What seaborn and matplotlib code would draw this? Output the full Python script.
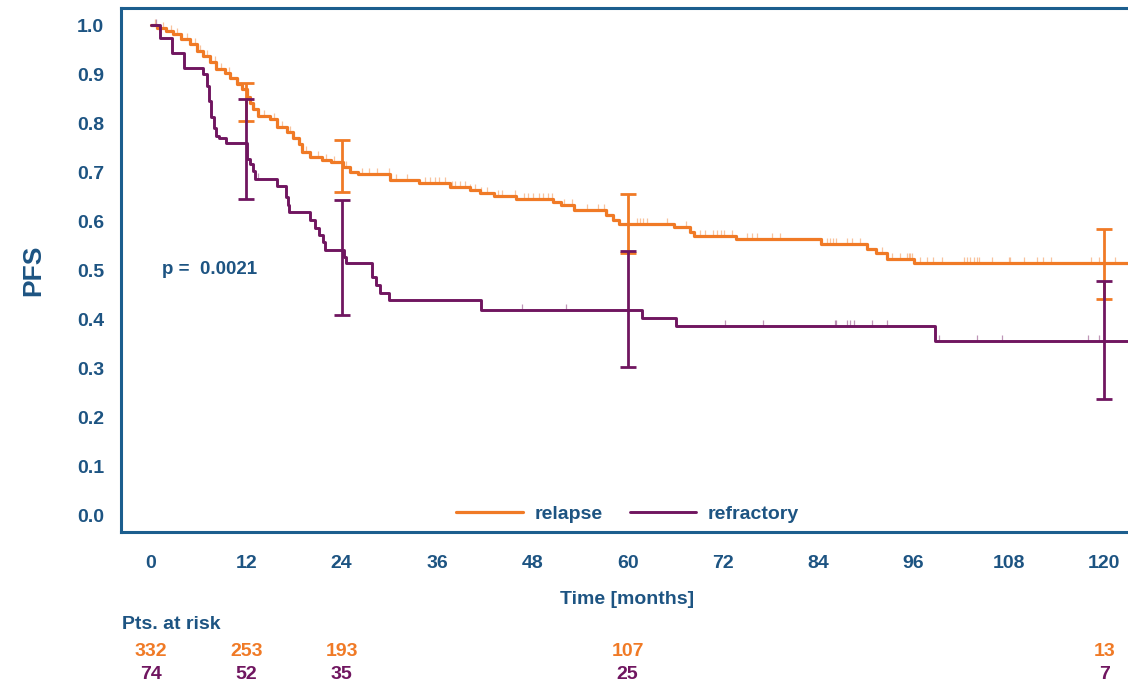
"""
Kaplan-Meier style PFS chart: relapse vs refractory, with 95% CI bars
at selected landmarks and a patients-at-risk table under the x axis.
"""

import matplotlib
matplotlib.use('Agg')
import matplotlib.pyplot as plt
from matplotlib.path import Path
from matplotlib.transforms import blended_transform_factory
import numpy as np
import pandas as pd
import seaborn as sns

# ---- data ----
relapse_t = [0, 0.7, 1.9, 2.8, 3.8, 4.9, 5.8, 6.6, 7.4, 8.2, 9.3, 10.0, 10.8,
             11.4, 12.1, 12.5, 12.9, 13.5, 15.0, 15.8, 17.1, 17.9, 18.6, 19.0,
             20.0, 21.5, 22.6, 24.2, 25.0, 26.0, 30.1, 33.7, 37.6, 40.2, 41.4,
             43.2, 46.0, 50.6, 51.6, 53.3, 57.3, 58.1, 58.9, 65.8, 67.8, 68.4,
             73.6, 84.3, 90.1, 91.3, 92.6, 96.0]
relapse_s = [1.0, 0.995, 0.988, 0.981, 0.971, 0.961, 0.947, 0.937, 0.924, 0.910,
             0.903, 0.893, 0.880, 0.870, 0.853, 0.842, 0.829, 0.815, 0.809, 0.792,
             0.782, 0.771, 0.758, 0.741, 0.731, 0.725, 0.721, 0.711, 0.700, 0.697,
             0.684, 0.678, 0.671, 0.665, 0.658, 0.651, 0.646, 0.640, 0.633, 0.623,
             0.613, 0.602, 0.595, 0.589, 0.579, 0.570, 0.564, 0.555, 0.544, 0.535,
             0.523, 0.515]
relapse_censor = [0.5, 1.5, 2.5, 3.3, 4.5, 5.5, 6.2, 7.0, 8.0, 8.8, 9.8, 11.0,
                  13.0, 14.2, 15.5, 16.5, 17.5, 19.5, 21.0, 22.0, 23.0, 24.6,
                  26.5, 27.5, 28.5, 29.9, 30.9, 32.2, 34.5, 35.1, 35.8, 36.2,
                  37.0, 37.9, 38.3, 38.9, 39.5, 40.2, 40.8, 41.6, 42.3, 43.7,
                  44.2, 45.8, 46.9, 47.5, 48.1, 48.8, 49.4, 50.0, 50.5, 52.0,
                  53.0, 54.9, 56.3, 57.0, 57.4, 61.2, 61.6, 62.0, 62.4, 65.0,
                  67.3, 69.1, 69.8, 70.8, 71.2, 71.7, 72.1, 73.1, 75.0, 75.6,
                  76.3, 78.2, 79.2, 85.1, 85.5, 85.9, 86.3, 87.6, 88.2, 89.3,
                  92.0, 93.3, 94.3, 95.2, 95.4, 95.6, 95.8, 96.8, 97.7, 98.5,
                  99.6, 102.3, 102.7, 103.1, 103.6, 104.0, 104.2, 105.9, 108.0,
                  108.2, 109.9, 111.6, 112.3, 113.3, 118.3, 119.3, 121.4]

refractory_t = [0, 1.1, 2.7, 4.2, 6.6, 7.0, 7.3, 7.6, 7.9, 8.2, 8.6, 9.5, 12.1,
                12.5, 12.8, 13.1, 15.8, 17.0, 17.2, 17.4, 20.0, 20.7, 21.2, 21.6,
                21.9, 24.3, 24.6, 27.8, 28.3, 28.8, 29.9, 41.6, 61.8, 66.1, 98.7]
refractory_s = [1.0, 0.973, 0.944, 0.913, 0.900, 0.876, 0.846, 0.812, 0.791,
                0.775, 0.771, 0.759, 0.728, 0.717, 0.703, 0.687, 0.673, 0.650,
                0.633, 0.619, 0.602, 0.586, 0.573, 0.558, 0.542, 0.528, 0.515,
                0.487, 0.470, 0.455, 0.439, 0.420, 0.403, 0.386, 0.357]
refractory_censor = [0.6, 12.9, 13.5, 46.7, 52.3, 72.3, 77.1, 86.1, 86.3, 87.6,
                     88.0, 88.5, 90.8, 92.6, 99.2, 104.0, 107.1, 118.0, 119.3]
follow_up_end = 123

ci_times = [12, 24, 60, 120]
relapse_ci_lo = [0.805, 0.660, 0.536, 0.442]
relapse_ci_hi = [0.882, 0.765, 0.655, 0.585]
refractory_ci_lo = [0.646, 0.410, 0.303, 0.239]
refractory_ci_hi = [0.849, 0.643, 0.540, 0.479]

risk_times = [0, 12, 24, 60, 120]
relapse_at_risk = [332, 253, 193, 107, 13]
refractory_at_risk = [74, 52, 35, 25, 7]

p_value_text = 'p =  0.0021'
x_ticks = list(range(0, 121, 12))
y_ticks = [i / 10 for i in range(11)]

# ---- styling ----
ORANGE = '#f07a26'
PURPLE = '#701660'
BLUE = '#1d5482'
SPINE = '#1c5e8e'

sns.set_style('white')
plt.rcParams['font.family'] = ['Liberation Sans', 'DejaVu Sans']
plt.rcParams['font.weight'] = 'bold'


def step_frame(times, surv, end):
    df = pd.DataFrame({'t': times + [end], 's': surv + [surv[-1]]})
    return df


def surv_at(times, surv, when):
    idx = np.searchsorted(np.array(times), np.array(when), side='right') - 1
    return np.array(surv)[idx]


fig = plt.figure(figsize=(11.28, 6.88), dpi=100)
ax = fig.add_axes([121 / 1128, 1 - 532 / 688, 1 - 121 / 1128, 524 / 688])

groups = [
    ('relapse', relapse_t, relapse_s, relapse_censor, ORANGE, 2.3,
     relapse_ci_lo, relapse_ci_hi),
    ('refractory', refractory_t, refractory_s, refractory_censor, PURPLE, 2.1,
     refractory_ci_lo, refractory_ci_hi),
]

tick_marker = Path([[0, 0], [0, 1]])

for name, t, s, cens, col, lw, lo, hi in groups:
    df = step_frame(t, s, follow_up_end)
    sns.lineplot(data=df, x='t', y='s', ax=ax, color=col, linewidth=lw,
                 drawstyle='steps-post', estimator=None, sort=False,
                 label=name, zorder=3)
    cdf = pd.DataFrame({'t': cens, 's': surv_at(t, s, cens)})
    sns.scatterplot(data=cdf, x='t', y='s', ax=ax, marker=tick_marker, s=80,
                    color=col, edgecolor=col, linewidth=0.9, alpha=0.45,
                    zorder=2, legend=False)

for name, t, s, cens, col, lw, lo, hi in groups:
    lo = np.array(lo)
    hi = np.array(hi)
    ax.errorbar(ci_times, (lo + hi) / 2, yerr=(hi - lo) / 2, fmt='none',
                ecolor=col, elinewidth=2.0, capsize=5.5, capthick=2.0,
                zorder=4)

ax.set_xlim(-3.78, 123.0)
ax.set_ylim(-0.033, 1.035)
ax.set_xticks(x_ticks)
ax.set_yticks(y_ticks)
ax.set_yticklabels([f'{v:.1f}' for v in y_ticks])

for side in ['left', 'top', 'bottom']:
    ax.spines[side].set_color(SPINE)
    ax.spines[side].set_linewidth(2.2)
ax.spines['right'].set_visible(False)

ax.tick_params(axis='both', colors=SPINE, labelcolor=BLUE, labelsize=14,
               width=1.6, direction='out')
ax.tick_params(axis='y', length=8, pad=4)
ax.tick_params(axis='x', length=8.6, pad=8)
for lab in ax.get_xticklabels() + ax.get_yticklabels():
    lab.set_fontweight('bold')

ax.set_xlabel('Time [months]', fontsize=14, fontweight='bold', color=BLUE)
ax.set_ylabel('PFS', fontsize=19, fontweight='bold', color=BLUE)
ax.xaxis.set_label_coords(0.503, -0.112)
ax.yaxis.set_label_coords(-0.075, 0.5)

ax.text(1.4, 0.501, p_value_text, fontsize=13.5, fontweight='bold', color=BLUE,
        ha='left', va='center')

leg = ax.legend(loc='center', bbox_to_anchor=(0.503, 0.034), ncol=2,
                frameon=False, fontsize=14, handlelength=3.4,
                columnspacing=1.4, handletextpad=0.6)
for txt in leg.get_texts():
    txt.set_color(BLUE)
    txt.set_fontweight('bold')

# patients at risk table
trans = blended_transform_factory(ax.transData, ax.transAxes)
ax.text(0.001, -0.1756, 'Pts. at risk', transform=ax.transAxes, fontsize=14,
        fontweight='bold', color=BLUE, ha='left', va='center')
for x, n in zip(risk_times, relapse_at_risk):
    ax.text(x, -0.2271, str(n), transform=trans, fontsize=14,
            fontweight='bold', color=ORANGE, ha='center', va='center')
for x, n in zip(risk_times, refractory_at_risk):
    ax.text(x, -0.2729, str(n), transform=trans, fontsize=14,
            fontweight='bold', color=PURPLE, ha='center', va='center')

fig.savefig('out.png', dpi=100)
